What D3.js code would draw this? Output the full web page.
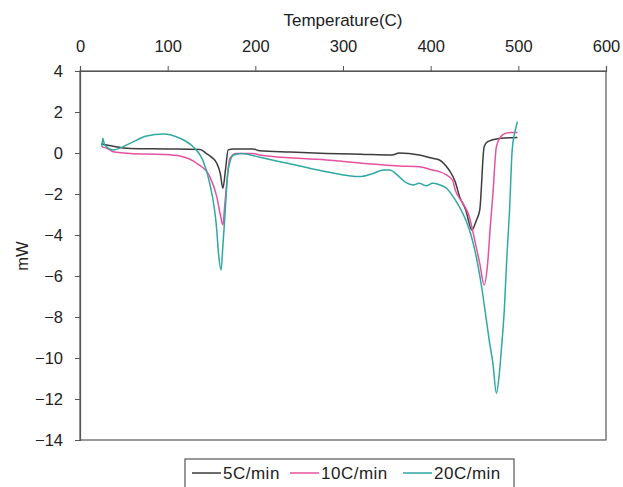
<!DOCTYPE html>
<html>
<head>
<meta charset="utf-8">
<script src="https://cdn.jsdelivr.net/npm/d3@7"></script>
<style>
body { margin:0; background:#fff; }
text { font-family:'Liberation Sans', Arial, sans-serif; fill:#222; }
</style>
</head>
<body>
<svg id="chart" width="623" height="487"></svg>
<script>

// data
var temp5  = [24,35,57,100,137,144,150,156,160,163,166,169,175,197,205,240,281,320,356,364,387,402,410,413,421,428,433,440,447,452,456,461,465,478,499];
var mw5    = [0.44,0.35,0.22,0.2,0.17,-0.02,-0.2,-0.5,-1.0,-1.72,-0.8,0.15,0.2,0.2,0.11,0.05,-0.02,-0.06,-0.1,0.0,-0.1,-0.26,-0.34,-0.43,-0.83,-1.4,-2.13,-2.78,-3.76,-3.3,-2.78,0.31,0.55,0.71,0.76];

var temp10 = [25,32,38,57,95,114,133,148,156,160,163,165,167,171,178,197,205,281,338,364,387,402,410,418,425,428,436,444,450,456,461,465,468,471,475,482,490,499];
var mw10   = [0.3,0.2,0.06,-0.02,-0.07,-0.15,-0.5,-1.15,-2.13,-3.0,-3.51,-2.6,-1.64,-0.26,-0.02,-0.02,-0.1,-0.34,-0.55,-0.63,-0.67,-0.83,-0.91,-1.07,-1.32,-1.8,-2.4,-3.1,-4.2,-5.38,-6.44,-5.38,-3.6,-2.0,0.31,0.88,1.0,1.0];

var temp20 = [25,26,28,38,57,76,95,114,129,140,148,156,158,161,163,165,169,175,184,205,228,243,281,319,334,346,353,364,372,380,387,395,402,410,418,428,440,446,452,458,463,467,471,475,478,481,484,487,490,493,497,499];
var mw20   = [0.3,0.72,0.4,0.15,0.47,0.83,0.93,0.72,0.31,-0.34,-1.48,-3.76,-4.9,-5.71,-4.5,-3.27,-0.83,-0.1,-0.02,-0.21,-0.43,-0.56,-0.91,-1.15,-1.0,-0.83,-0.83,-1.15,-1.45,-1.56,-1.48,-1.6,-1.48,-1.55,-1.72,-2.29,-3.27,-4.0,-5.06,-6.5,-7.98,-9.2,-10.26,-11.72,-10.9,-9.4,-7.66,-5.0,-2.78,0.15,1.2,1.53];

var seriesNames  = ['5C/min','10C/min','20C/min'];
var seriesColors = ['#3d3d3d','#e5529f','#2fa9a3'];
var xTicks = [0,100,200,300,400,500,600];
var yTicks = [4,2,0,-2,-4,-6,-8,-10,-12,-14];

var series = [
	{ name: seriesNames[0], t: temp5,  v: mw5 },
	{ name: seriesNames[1], t: temp10, v: mw10 },
	{ name: seriesNames[2], t: temp20, v: mw20 }
];

var plotLeft = 80, plotRight = 606, plotTop = 71, plotBottom = 440;

var x = d3.scaleLinear().domain([0,600]).range([plotLeft,plotRight]);
var y = d3.scaleLinear().domain([-14,4]).range([plotBottom,plotTop]);

var svg = d3.select('#chart');

// plot frame
svg.append('rect')
	.attr('x',plotLeft).attr('y',plotTop)
	.attr('width',plotRight-plotLeft).attr('height',plotBottom-plotTop)
	.attr('fill','none').attr('stroke','#555').attr('stroke-width',1.2);

var xAxis = svg.append('g')
	.attr('transform','translate(0,'+plotTop+')')
	.call(d3.axisTop(x).tickValues(xTicks).tickSize(5).tickPadding(14));
var yAxis = svg.append('g')
	.attr('transform','translate('+plotLeft+',0)')
	.call(d3.axisLeft(y).tickValues(yTicks).tickSize(5).tickPadding(12));

[xAxis,yAxis].forEach(function(a){
	a.select('.domain').attr('stroke','#555').attr('stroke-width',1.2);
	a.selectAll('.tick line').attr('stroke','#555');
	a.selectAll('.tick text')
		.style('font-family','Liberation Sans, Arial, sans-serif')
		.style('font-size','16.5px')
		.attr('fill','#222');
});

svg.append('text')
	.attr('x',343).attr('y',26)
	.style('text-anchor','middle')
	.style('font-size','17px')
	.text('Temperature(C)');

svg.append('text')
	.attr('transform','translate(28,256) rotate(-90)')
	.style('text-anchor','middle')
	.style('font-size','16.5px')
	.text('mW');

var line = d3.line()
	.curve(d3.curveMonotoneX)
	.x(function(d){ return x(d[0]) })
	.y(function(d){ return y(d[1]) });

svg.selectAll('.series')
	.data(series)
	.enter()
	.append('path')
	.attr('class','series')
	.attr('fill','none')
	.attr('stroke-width',1.5)
	.attr('stroke',function(d,i){ return seriesColors[i] })
	.attr('d',function(d){ return line(d.t.map(function(t,i){ return [t,d.v[i]] })) });

// legend
var legend = svg.append('g');
legend.append('rect')
	.attr('x',185).attr('y',459)
	.attr('width',329).attr('height',40)
	.attr('fill','#fff').attr('stroke','#555').attr('stroke-width',1.2);

var legendX = [192,290,403];
seriesNames.forEach(function(n,i){
	legend.append('line')
		.attr('x1',legendX[i]).attr('x2',legendX[i]+29)
		.attr('y1',473).attr('y2',473)
		.attr('stroke',seriesColors[i]).attr('stroke-width',1.5);
	legend.append('text')
		.attr('x',legendX[i]+31).attr('y',479)
		.style('font-size','17px')
		.style('letter-spacing','0.5px')
		.text(n);
});

</script>
</body>
</html>
